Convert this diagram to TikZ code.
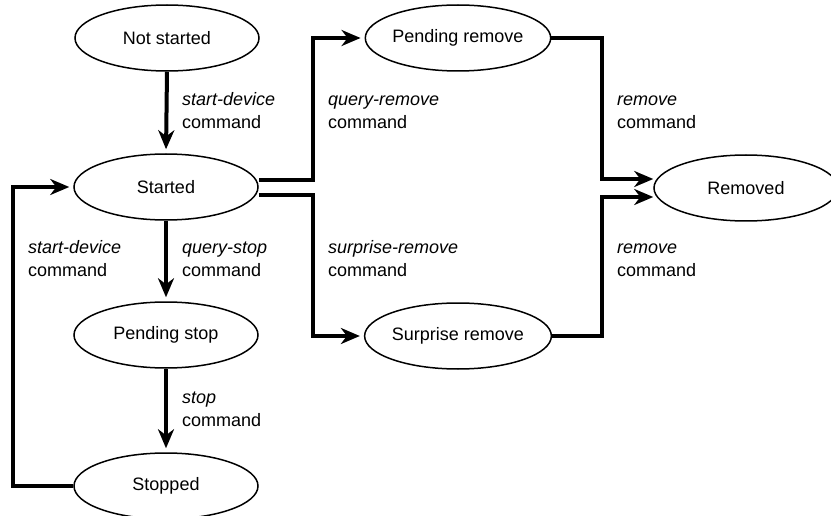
\documentclass[tikz,border=0pt]{standalone}
\usepackage{fontspec}
\setmainfont{Liberation Sans}
\usetikzlibrary{shapes.geometric,arrows.meta,backgrounds}
\tikzset{
  state/.style={ellipse, draw=black, line width=1.5pt, fill=white,
    minimum width=184pt, minimum height=66pt, inner sep=0pt,
    font=\fontsize{18}{23}\selectfont},
  conn/.style={line width=4pt, -{Stealth[length=19pt,width=16pt,inset=6pt]},
    shorten >=4pt},
  lbl/.style={anchor=south west, inner sep=0pt, align=left,
    font=\fontsize{18}{23}\selectfont}
}
\begin{document}
\begin{tikzpicture}[x=1pt, y=-1pt]
  \useasboundingbox (0,0) rectangle (831,516);

  % states
  \node[state] (ns)  at (167,38)  {Not started};
  \node[state] (st)  at (166,187) {Started};
  \node[state] (pst) at (166,335) {Pending stop};
  \node[state] (stp) at (166,486) {Stopped};
  \node[state] (pr)  at (458,38)  {Pending remove};
  \node[state] (sr)  at (458,336) {Surprise remove};
  \node[state] (rm)  at (746,188) {Removed};

  % columns used by the elbow connectors
  \coordinate (jl) at (13,0);
  \coordinate (jr) at (313,0);
  \coordinate (jm) at (602,0);

  % transitions
  \begin{scope}[on background layer]
    \draw[conn] (ns.south) -- (st.north);
    \draw[conn] (st.south) -- (pst.north);
    \draw[conn] (pst.south) -- (stp.north);
    \draw[conn] (stp.west) -- (stp.west -| jl) |- (st.west);
    \draw[conn] ([yshift=7pt]st.east) -- ([yshift=7pt]st.east -| jr) |- (pr.west);
    \draw[conn] ([yshift=-8pt]st.east) -- ([yshift=-8pt]st.east -| jr) |- (sr.west);
    \draw[conn,shorten >=0pt] (pr.east) -- (pr.east -| jm) |- ([yshift=9pt]rm.west);
    \draw[conn,shorten >=0pt] (sr.east) -- (sr.east -| jm) |- ([yshift=-9pt]rm.west);
  \end{scope}

  % transition labels
  \node[lbl] (l1) at (182,129) {\textit{start-device}\\command};
  \node[lbl] (l2) at (328,129) {\textit{query-remove}\\command};
  \node[lbl] (l3) at (617,129) {\textit{remove}\\command};
  \node[lbl] (l4) at (28,277)  {\textit{start-device}\\command};
  \node[lbl] (l5) at (182,277) {\textit{query-stop}\\command};
  \node[lbl] (l6) at (328,277) {\textit{surprise-remove}\\command};
  \node[lbl] (l7) at (617,277) {\textit{remove}\\command};
  \node[lbl] (l8) at (182,427) {\textit{stop}\\command};
\end{tikzpicture}
\end{document}
